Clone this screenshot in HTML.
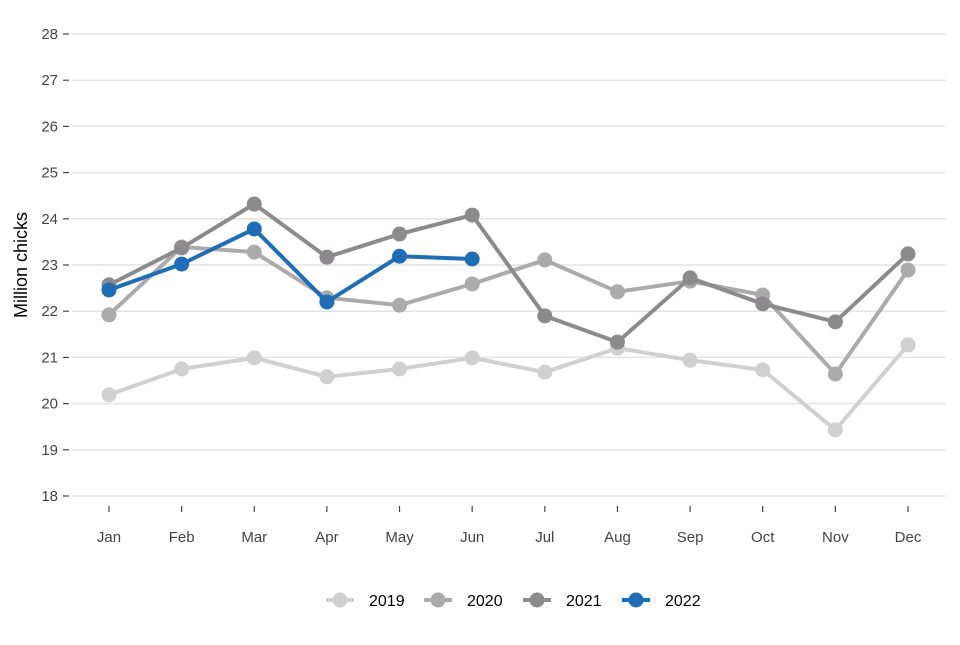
<!DOCTYPE html>
<html><head><meta charset="utf-8"><style>
body{margin:0;background:#fff;font-family:"Liberation Sans",Arial,sans-serif}
</style></head><body>
<svg id="chart" width="960" height="640" xmlns="http://www.w3.org/2000/svg"></svg>
<script>
const months=["Jan","Feb","Mar","Apr","May","Jun","Jul","Aug","Sep","Oct","Nov","Dec"];
const yTicks=[18,19,20,21,22,23,24,25,26,27,28];
const seriesNames=["2019","2020","2021","2022"];
const seriesColors=["#d0d0d0","#ababab","#8c8a8c","#1f6db5"];
const s2019=[20.19,20.75,20.99,20.58,20.75,20.99,20.68,21.2,20.94,20.73,19.43,21.27];
const s2020=[21.92,23.39,23.28,22.29,22.13,22.59,23.11,22.42,22.65,22.35,20.64,22.89];
const s2021=[22.57,23.37,24.32,23.17,23.67,24.08,21.9,21.33,22.72,22.16,21.77,23.24];
const s2022=[22.46,23.02,23.78,22.2,23.19,23.13];
const allSeries=[s2019,s2020,s2021,s2022];

const svg=document.getElementById('chart');
const NS="http://www.w3.org/2000/svg";
const x=i=>109+i*(908-109)/11;
const y=v=>496-(v-18)*(496-34)/10;
function mk(t,a,p){const e=document.createElementNS(NS,t);for(const k in a)e.setAttribute(k,a[k]);(p||svg).appendChild(e);return e;}

const grid=mk('g',{});


yTicks.forEach(v=>{
  mk('line',{x1:72,x2:946,y1:y(v),y2:y(v),stroke:'#e3e3e3','stroke-width':1.5},grid);
  mk('line',{x1:63,x2:69,y1:y(v),y2:y(v),stroke:'#444','stroke-width':1.2},grid);
  const t=mk('text',{x:58,y:y(v)+5,'text-anchor':'end','font-size':15,fill:'#444'},grid);
  t.textContent=v;
  
  
});
months.forEach((m,i)=>{
  mk('line',{x1:x(i),x2:x(i),y1:506,y2:512,stroke:'#444','stroke-width':1.2});
  const t=mk('text',{x:x(i),y:542,'text-anchor':'middle','font-size':15,fill:'#444'});
  t.textContent=m;
  
  
});
const yt=mk('text',{x:0,y:0,transform:'translate(27,265) rotate(-90)','text-anchor':'middle','font-size':18,fill:'#000'});
yt.textContent='Million chicks';



allSeries.forEach((s,k)=>{
  const g=mk('g',{});
  
  
  mk('polyline',{points:s.map((v,i)=>x(i)+','+y(v)).join(' '),fill:'none',stroke:seriesColors[k],'stroke-width':4,'stroke-linejoin':'round'},g);
  s.forEach((v,i)=>{
    const c=mk('circle',{cx:x(i),cy:y(v),r:7.5,fill:seriesColors[k]},g);
    
    
  });
});

const leg=mk('g',{});


const lx=[340,438,537,636];
seriesNames.forEach((n,k)=>{
  const e=mk('g',{},leg);
  
  
  mk('line',{x1:lx[k]-14,x2:lx[k]+14,y1:600,y2:600,stroke:seriesColors[k],'stroke-width':4},e);
  mk('circle',{cx:lx[k],cy:600,r:7.5,fill:seriesColors[k]},e);
  const t=mk('text',{x:lx[k]+29,y:606,'font-size':16,fill:'#000'},e);
  t.textContent=n;
});
</script>
</body></html>
